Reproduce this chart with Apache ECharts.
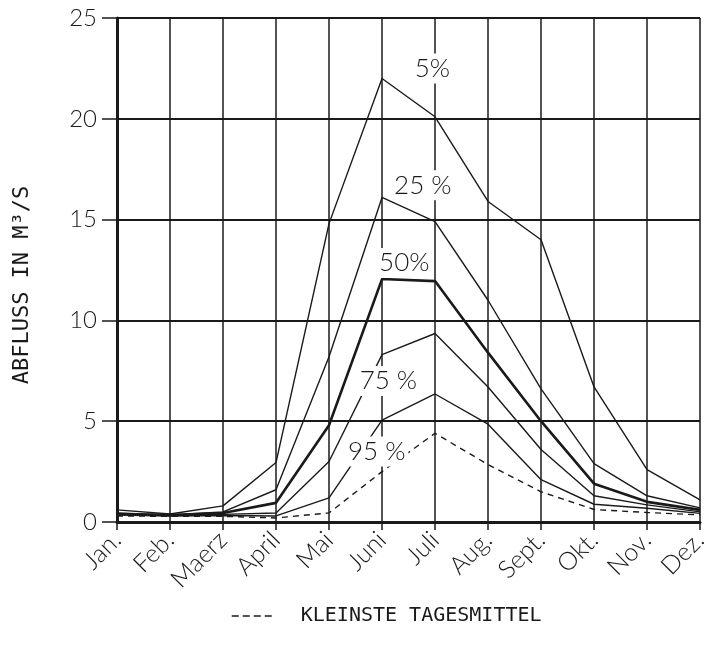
<!DOCTYPE html>
<html>
<head>
<meta charset="utf-8">
<script src="https://cdn.jsdelivr.net/npm/echarts@6/dist/echarts.min.js"></script>
<style>
  html, body { margin: 0; padding: 0; background: #fff; }
  #chart { width: 711px; height: 651px; }
</style>
</head>
<body>
<div id="chart"></div>
<script>
// Monthly discharge duration values (m³/s)
const months = ['Jan.', 'Feb.', 'Maerz', 'April', 'Mai', 'Juni', 'Juli', 'Aug.', 'Sept.', 'Okt.', 'Nov.', 'Dez.'];
const yTicks = [0, 5, 10, 15, 20, 25];

const p5  = [0.6, 0.4, 0.8, 2.95, 14.8, 22.0, 20.1, 15.9, 14.0, 6.7, 2.6, 1.1];
const p25 = [0.45, 0.35, 0.5, 1.6, 8.2, 16.1, 14.9, 11.0, 6.6, 2.9, 1.3, 0.7];
const p50 = [0.4, 0.35, 0.45, 0.95, 4.8, 12.05, 11.95, 8.4, 5.0, 1.9, 1.0, 0.6];
const p75 = [0.38, 0.32, 0.38, 0.45, 3.0, 8.3, 9.35, 6.7, 3.6, 1.3, 0.85, 0.5];
const p95 = [0.35, 0.3, 0.32, 0.3, 1.2, 5.05, 6.35, 4.85, 2.1, 0.88, 0.68, 0.43];
const minDaily = [0.3, 0.28, 0.28, 0.2, 0.45, 2.5, 4.4, 2.85, 1.5, 0.62, 0.47, 0.35];

// Curve labels and where they sit (month index, discharge)
const curveLabels = ['5%', '25 %', '50%', '75 %', '95 %'];
const labelSpots = [[5.95, 22.5], [5.77, 16.7], [5.42, 12.85], [5.12, 7.0], [4.9, 3.5]];

const ink = '#1a1a1a';
const plotFont = 'Lato, "DejaVu Sans", sans-serif';
const monoFont = '"DejaVu Sans Mono", "Liberation Mono", monospace';

function pairs(arr) { return arr.map((v, i) => [i, v]); }

function curve(name, data, width, type, labelIdx) {
  const s = {
    name: name,
    type: 'line',
    data: pairs(data),
    symbol: 'none',
    silent: true,
    z: 2,
    lineStyle: { color: ink, width: width, type: type },
    itemStyle: { color: ink }
  };
  if (labelIdx !== undefined) {
    s.markPoint = {
      symbol: 'circle',
      symbolSize: 0,
      silent: true,
      z: 10,
      data: [{ coord: labelSpots[labelIdx] }],
      label: {
        show: true,
        position: 'inside',
        formatter: curveLabels[labelIdx],
        color: ink,
        fontFamily: plotFont,
        fontWeight: 300,
        fontSize: 26,
        backgroundColor: '#fff',
        padding: [3, 3, 1, 3]
      }
    };
  }
  return s;
}

const chart = echarts.init(document.getElementById('chart'));
chart.setOption({
  animation: false,
  backgroundColor: '#fff',
  grid: { left: 117, right: 1, top: 18, bottom: 129 },
  legend: {
    data: ['KLEINSTE TAGESMITTEL'],
    left: 226,
    top: 601,
    itemWidth: 42,
    itemHeight: 14,
    selectedMode: false,
    itemStyle: { opacity: 0 },
    lineStyle: { color: ink, width: 1.5, type: [7, 4] },
    textStyle: {
      fontFamily: monoFont,
      fontSize: 20,
      color: ink,
      padding: [0, 0, 0, 22]
    }
  },
  xAxis: {
    type: 'value',
    min: 0,
    max: months.length - 1,
    interval: 1,
    axisLine: { show: true, onZero: false, lineStyle: { color: ink, width: 3 } },
    axisTick: { show: true, length: 8, lineStyle: { color: ink, width: 1.5 } },
    splitLine: { show: true, lineStyle: { color: ink, width: 1.5 } },
    axisLabel: {
      rotate: 45,
      margin: 14,
      color: ink,
      fontFamily: plotFont,
      fontWeight: 300,
      fontSize: 25,
      showMinLabel: true,
      showMaxLabel: true,
      formatter: v => months[v] || ''
    }
  },
  yAxis: {
    type: 'value',
    min: yTicks[0],
    max: yTicks[yTicks.length - 1],
    interval: 5,
    name: 'ABFLUSS IN M³/S',
    nameLocation: 'middle',
    nameRotate: 90,
    nameGap: 84,
    nameTextStyle: {
      fontFamily: monoFont,
      fontSize: 22,
      color: ink,
      padding: [0, 30, 0, 0]
    },
    axisLine: { show: true, lineStyle: { color: ink, width: 3 } },
    axisTick: { show: true, length: 15, lineStyle: { color: ink, width: 1.5 } },
    splitLine: { show: true, lineStyle: { color: ink, width: 1.8 } },
    axisLabel: {
      margin: 20,
      color: ink,
      fontFamily: plotFont,
      fontWeight: 300,
      fontSize: 24
    }
  },
  series: [
    curve('5%', p5, 1.4, 'solid', 0),
    curve('25%', p25, 1.4, 'solid', 1),
    curve('50%', p50, 2.6, 'solid', 2),
    curve('75%', p75, 1.4, 'solid', 3),
    curve('95%', p95, 1.4, 'solid', 4),
    curve('KLEINSTE TAGESMITTEL', minDaily, 1.4, [6, 5])
  ]
});
</script>
</body>
</html>
